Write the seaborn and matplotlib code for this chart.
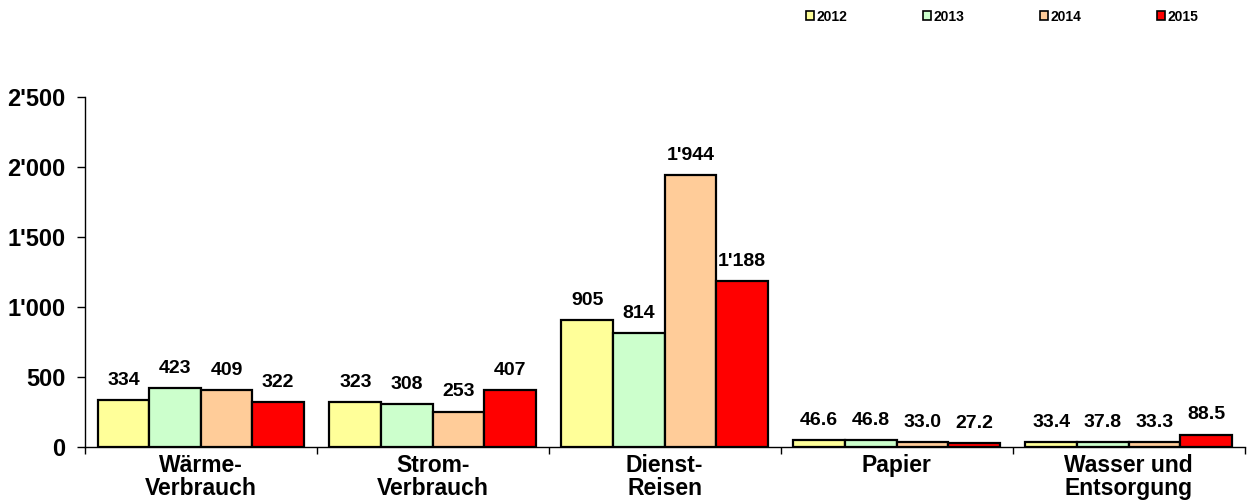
import numpy as np
import pandas as pd
import matplotlib
matplotlib.use('Agg')
import matplotlib.pyplot as plt
from matplotlib.ticker import FuncFormatter, FixedLocator
import seaborn as sns

# data
categories = ['Wärme-\nVerbrauch', 'Strom-\nVerbrauch', 'Dienst-\nReisen', 'Papier', 'Wasser und\nEntsorgung']
years = ['2012', '2013', '2014', '2015']
v2012 = [334, 323, 905, 46.6, 33.4]
v2013 = [423, 308, 814, 46.8, 37.8]
v2014 = [409, 253, 1944, 33.0, 33.3]
v2015 = [322, 407, 1188, 27.2, 88.5]
colors = ['#FFFF99', '#CCFFCC', '#FFCC99', '#FF0000']

rows = []
for y, vals in zip(years, [v2012, v2013, v2014, v2015]):
    for c, v in zip(categories, vals):
        rows.append({'cat': c, 'year': y, 'value': v})
df = pd.DataFrame(rows)

sns.set_theme(style='white')
plt.rcParams['font.family'] = ['Liberation Sans', 'DejaVu Sans']
plt.rcParams['font.weight'] = 'bold'
plt.rcParams['text.color'] = 'black'
plt.rcParams['xtick.color'] = 'black'
plt.rcParams['ytick.color'] = 'black'

def swiss(v, pos=None):
    return f'{int(round(v)):,}'.replace(',', "'")

def lab(v):
    return swiss(v) if v >= 100 else f'{v:.1f}'

fig = plt.figure(figsize=(12.47, 5.0), dpi=100)
ax = fig.add_axes([0.068, 0.106, 0.93, 0.70])

sns.barplot(data=df, x='cat', y='value', hue='year', palette=colors,
            width=0.89, gap=0, edgecolor='black', linewidth=1.6,
            saturation=1, ax=ax, legend=True)

for cont in ax.containers:
    ax.bar_label(cont, labels=[lab(b.get_height()) for b in cont],
                 padding=8, fontsize=14, fontweight='bold', color='black')

ax.set_ylim(0, 2500)
ax.set_xlim(-0.5, 4.5)
ax.yaxis.set_major_locator(FixedLocator([0, 500, 1000, 1500, 2000, 2500]))
ax.yaxis.set_major_formatter(FuncFormatter(swiss))
ax.set_xlabel('')
ax.set_ylabel('')

# group boundary ticks on x
ax.set_xticks([0, 1, 2, 3, 4])
ax.set_xticklabels(categories, fontsize=16.5, fontweight='bold', linespacing=1.0)
ax.set_xticks(np.arange(-0.5, 5.0, 1.0), minor=True)
ax.tick_params(axis='x', which='major', length=0, pad=5)
ax.tick_params(axis='x', which='minor', length=5, width=1, color='black', direction='out', bottom=True)
ax.tick_params(axis='y', length=6, width=1, color='black', direction='out', left=True,
               labelsize=17, pad=8)
for t in ax.get_yticklabels():
    t.set_fontweight('bold')

for s in ['top', 'right']:
    ax.spines[s].set_visible(False)
for s in ['left', 'bottom']:
    ax.spines[s].set_color('black')
    ax.spines[s].set_linewidth(1)

leg = ax.legend(loc='center left', bbox_to_anchor=(0.611, 1.23), ncol=4, frameon=False,
                fontsize=10, handlelength=0.6, handleheight=0.6, handletextpad=0.2,
                columnspacing=5.4, title=None)
for h in leg.legend_handles:
    h.set_edgecolor('black')
    h.set_linewidth(1.2)
for t in leg.get_texts():
    t.set_fontweight('bold')

fig.savefig('out.png', dpi=100)
